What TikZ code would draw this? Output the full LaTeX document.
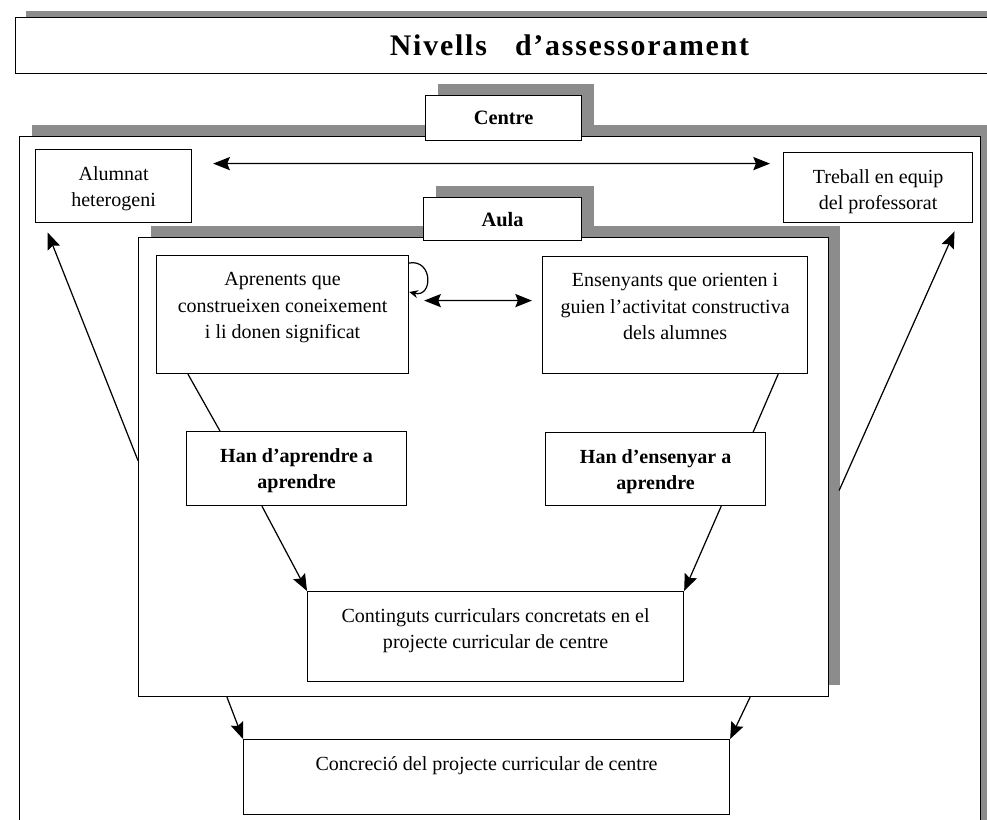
\documentclass[tikz,border=0pt]{standalone}
\usepackage{fontspec}
\setmainfont{Liberation Serif}
\usetikzlibrary{arrows.meta,shadows}

\newcommand{\boxtxt}[3]{\parbox[t][#2][t]{#1}{\vspace*{2.5pt}\centering #3}}

\tikzset{
    panel/.style={draw, fill=white, inner sep=0pt, anchor=north west},
    tab/.style={panel, font=\fontsize{11.6}{14}\selectfont\bfseries},
    textbox/.style={draw, fill=white, inner xsep=0pt, inner ysep=0.25cm,
        anchor=north west, font=\fontsize{11.4}{15}\selectfont},
    boldbox/.style={textbox, font=\fontsize{11.4}{15}\selectfont\bfseries},
    shadowed/.style={general shadow={fill=black!45, shadow xshift=0.24cm, shadow yshift=0.24cm}},
    titleshadow/.style={general shadow={fill=black!45, shadow xshift=0.2cm, shadow yshift=0.14cm}},
    link/.style={-},
    twoway/.style={<->}
}

\begin{document}
\begin{tikzpicture}[x=0.02cm, y=-0.02cm, line width=0.7pt,
        >={Stealth[length=9.5pt, width=7.5pt, inset=1.5pt]}]
        \clip (0,0) rectangle (987,820);

        % Title
        \node[panel, titleshadow, minimum width=22.16cm, minimum height=1.12cm,
            font=\fontsize{17}{20}\selectfont\bfseries] (title) at (15,17)
            {\addfontfeature{LetterSpace=6}Nivells\hspace{16pt}d’assessorament};

        % Centre level
        \node[panel, shadowed, minimum width=19.22cm, minimum height=15.28cm] (centreframe) at (19,136) {};
        \node[tab, shadowed, minimum width=3.12cm, minimum height=0.9cm] (centre) at (425,95) {Centre};
        \node[textbox] (alumnat) at (35,149) {\boxtxt{3.12cm}{0.96cm}{Alumnat\\heterogeni}};
        \node[textbox] (treball) at (783,152) {\boxtxt{3.78cm}{0.9cm}{Treball en equip\\del professorat}};
        \draw[twoway, shorten <=0.42cm, shorten >=0.26cm]
            ([yshift=0.45cm]alumnat.east) -- ([yshift=0.48cm]treball.west);

        % Aula level
        \node[panel, shadowed, minimum width=13.8cm, minimum height=9.18cm] (aulaframe) at (138,237) {};
        \node[tab, shadowed, minimum width=3.16cm, minimum height=0.86cm] (aula) at (423,197) {Aula};
        \node[textbox] (aprenents) at (156,255)
            {\boxtxt{5.04cm}{1.86cm}{Aprenents que\\construeixen coneixement\\i li donen significat}};
        \node[textbox] (ensenyants) at (542,256)
            {\boxtxt{5.3cm}{1.84cm}{Ensenyants que orienten i\\guien l’activitat constructiva\\dels alumnes}};
        \draw[twoway, shorten <=0.3cm, shorten >=0.2cm]
            ([yshift=0.28cm]aprenents.east) -- ([yshift=0.29cm]ensenyants.west);
        \draw[-{Stealth[length=5pt, width=4.5pt]}] ([yshift=-0.16cm]aprenents.north east)
            .. controls +(24,-4) and +(24,6) .. ([yshift=-0.74cm]aprenents.north east);

        \node[boldbox] (han1) at (186,431) {\boxtxt{4.4cm}{0.98cm}{Han d’aprendre a\\aprendre}};
        \node[boldbox] (han2) at (545,432) {\boxtxt{4.4cm}{0.96cm}{Han d’ensenyar a\\aprendre}};
        \draw[link] ([xshift=0.64cm]aprenents.south west) -- ([xshift=0.68cm]han1.north west);
        \draw[link] ([xshift=-0.6cm]ensenyants.south east) -- ([xshift=-0.26cm]han2.north east);

        \node[textbox] (contingut) at (307,591)
            {\boxtxt{7.52cm}{1.3cm}{Continguts curriculars concretats en el\\projecte curricular de centre}};
        \draw[->] ([xshift=1.52cm]han1.south west) -- (contingut.north west);
        \draw[->] ([xshift=-0.9cm]han2.south east) -- (contingut.north east);

        % Arrows out of the aula
        \draw[->, shorten >=0.2cm] ([yshift=0.13cm]aulaframe.west) -- ([xshift=0.18cm]alumnat.south west);
        \draw[->, shorten >=0.18cm] ([xshift=0.2cm, yshift=-0.47cm]aulaframe.east) -- ([xshift=-0.3cm]treball.south east);

        % Bottom box
        \node[textbox] (concrecio) at (243,739)
            {\boxtxt{9.72cm}{1.0cm}{Concreció del projecte curricular de centre}};
        \draw[->] ([xshift=1.78cm]aulaframe.south west) -- (concrecio.north west);
        \draw[->] ([xshift=-1.58cm]aulaframe.south east) -- (concrecio.north east);
    \end{tikzpicture}
\end{document}
